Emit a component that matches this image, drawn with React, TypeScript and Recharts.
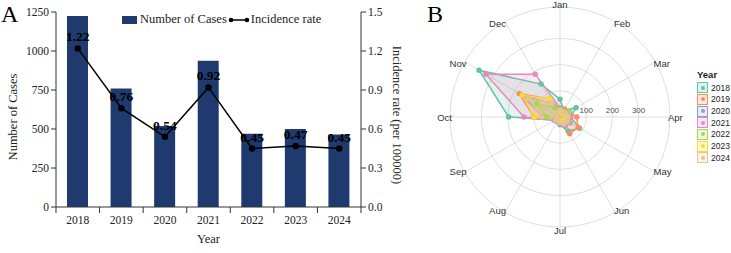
import React from "react";
import {
  ComposedChart,
  Bar,
  Line,
  XAxis,
  YAxis,
  LabelList,
  RadarChart,
  Radar,
  PolarGrid,
  PolarAngleAxis,
  PolarRadiusAxis,
} from "recharts";

const YEARS = ["2018", "2019", "2020", "2021", "2022", "2023", "2024"];
const CASES = [1225, 760, 520, 937, 470, 500, 465];
const RATES = [1.22, 0.76, 0.54, 0.92, 0.45, 0.47, 0.45];
const CASE_TICKS = [0, 250, 500, 750, 1000, 1250];
const RATE_TICKS = [0, 0.3, 0.6, 0.9, 1.2, 1.5];

const MONTHS = ["Jan", "Feb", "Mar", "Apr", "May", "Jun", "Jul", "Aug", "Sep", "Oct", "Nov", "Dec"];
const M_2018 = [68, 30, 71, 40, 86, 62, 30, 20, 25, 196, 357, 145];
const M_2019 = [30, 35, 40, 64, 80, 74, 25, 20, 20, 100, 180, 80];
const M_2020 = [20, 15, 20, 25, 30, 25, 20, 15, 15, 66, 165, 58];
const M_2021 = [35, 30, 35, 40, 45, 40, 25, 20, 25, 138, 327, 189];
const M_2022 = [30, 25, 40, 30, 35, 25, 15, 15, 15, 51, 103, 40];
const M_2023 = [20, 15, 20, 25, 20, 20, 15, 15, 15, 99, 166, 80];
const M_2024 = [25, 20, 25, 30, 30, 30, 20, 15, 20, 70, 140, 60];
const RING_TICKS = [0, 100, 200, 300, 420];

const YEAR_SERIES = [
  { year: "2018", values: M_2018, color: "#66C2A5" },
  { year: "2019", values: M_2019, color: "#FC8D62" },
  { year: "2020", values: M_2020, color: "#8DA0CB" },
  { year: "2021", values: M_2021, color: "#E78AC3" },
  { year: "2022", values: M_2022, color: "#A6D854" },
  { year: "2023", values: M_2023, color: "#FFD92F" },
  { year: "2024", values: M_2024, color: "#E5C494" },
];

const barData = YEARS.map((y, i) => ({ year: y, cases: CASES[i], rate: RATES[i] }));
const radarData = MONTHS.map((m, i) => {
  const row: Record<string, string | number> = { month: m };
  YEAR_SERIES.forEach((s) => (row["y" + s.year] = s.values[i]));
  return row;
});

const SERIF = '"Liberation Serif", "Times New Roman", serif';
const SANS = '"Liberation Sans", Arial, sans-serif';
const NAVY = "#1f3a6e";
const AXIS = "#333";

const RCX = 140;
const RCY = 117;

function YearTick(props: any) {
  const { x, y, payload } = props;
  const half = payload.offset || 21.8;
  const last = payload.index === YEARS.length - 1;
  return (
    <g>
      <line x1={x - half} x2={x - half} y1={y - 8} y2={y - 2} stroke={AXIS} />
      {last && <line x1={x + half} x2={x + half} y1={y - 8} y2={y - 2} stroke={AXIS} />}
      <text x={x} y={y} dy="0.75em" textAnchor="middle" fontFamily={SERIF} fontSize={11.5} fill="#222">
        {payload.value}
      </text>
    </g>
  );
}

function MonthTick(props: any) {
  const { x, y, payload } = props;
  const a = Math.atan2(y - RCY, x - RCX);
  const cos = Math.cos(a);
  const r = 108;
  const px = RCX + r * cos;
  let py = RCY + r * Math.sin(a);
  let anchor = "middle";
  if (cos > 0.1) anchor = "start";
  else if (cos < -0.1) anchor = "end";
  else py += y < RCY ? -5 : 5;
  return (
    <text x={px} y={py} textAnchor={anchor} dominantBaseline="central" fontFamily={SANS} fontSize={9.5} fill="#333">
      {payload.value}
    </text>
  );
}

function RingTick(props: any) {
  const { x, y, payload } = props;
  if (payload.value > 300) return null;
  return (
    <text x={x} y={y - 4} textAnchor="middle" fontFamily={SANS} fontSize={8} fill="#4d4d4d">
      {payload.value}
    </text>
  );
}

function CasesBars() {
  return (
    <ComposedChart width={420} height={253} data={barData} margin={{ top: 12, right: 0, bottom: 0, left: 0 }}>
      <XAxis
        dataKey="year"
        height={46}
        stroke={AXIS}
        tickLine={false}
        tick={<YearTick />}
        label={{ value: "Year", position: "insideBottom", offset: 10, fontFamily: SERIF, fontSize: 12.5, fill: "#222" }}
      />
      <YAxis
        yAxisId="left"
        width={56}
        domain={[0, 1250]}
        ticks={CASE_TICKS}
        stroke={AXIS}
        tickSize={5}
        tick={{ fontFamily: SERIF, fontSize: 11.5, fill: "#222" }}
        label={() => (
          <text
            x={13}
            y={117}
            transform="rotate(-90 13 117)"
            textAnchor="middle"
            dominantBaseline="central"
            fontFamily={SERIF}
            fontSize={12.5}
            fill="#222"
          >
            Number of Cases
          </text>
        )}
      />
      <YAxis
        yAxisId="right"
        orientation="right"
        width={59}
        domain={[0, 1.5]}
        ticks={RATE_TICKS}
        stroke={AXIS}
        tickSize={5}
        tickFormatter={(v: number) => v.toFixed(1)}
        tick={{ fontFamily: SERIF, fontSize: 11.5, fill: "#222" }}
        label={() => (
          <text
            x={397}
            y={115}
            transform="rotate(90 397 115)"
            textAnchor="middle"
            dominantBaseline="central"
            fontFamily={SERIF}
            fontSize={12.5}
            fill="#222"
          >
            Incidence rate (per 100000)
          </text>
        )}
      />
      <Bar yAxisId="left" dataKey="cases" fill={NAVY} barSize={21} isAnimationActive={false} />
      <Line
        yAxisId="right"
        dataKey="rate"
        stroke="#000"
        strokeWidth={1.5}
        dot={{ r: 2.5, fill: "#000", stroke: "#000" }}
        isAnimationActive={false}
      >
        <LabelList
          dataKey="rate"
          position="top"
          offset={7}
          fontFamily={SERIF}
          fontSize={13.5}
          fontWeight="bold"
          fill="#000"
          formatter={(v: number) => v.toFixed(2)}
        />
      </Line>
    </ComposedChart>
  );
}

function MonthRadar() {
  return (
    <RadarChart width={311} height={253} cx={RCX} cy={RCY} outerRadius={110} data={radarData} margin={{ top: 0, right: 0, bottom: 0, left: 0 }}>
      <PolarGrid gridType="circle" stroke="#d6d6d6" strokeWidth={0.8} />
      <PolarAngleAxis dataKey="month" axisLine={false} tickLine={false} tick={<MonthTick />} />
      <PolarRadiusAxis angle={0} domain={[0, 420]} ticks={RING_TICKS as any} axisLine={false} tickLine={false} tick={<RingTick />} />
      {YEAR_SERIES.map((s) => (
        <Radar
          key={s.year}
          dataKey={"y" + s.year}
          name={s.year}
          stroke={s.color}
          strokeWidth={1.5}
          fill={s.color}
          fillOpacity={0.18}
          dot={{ r: 2, fill: s.color, stroke: s.color, fillOpacity: 1 }}
          isAnimationActive={false}
        />
      ))}
    </RadarChart>
  );
}

export default function App() {
  return (
    <div style={{ position: "relative", width: 731, height: 253, background: "#fff", overflow: "hidden" }}>
      <style>{"body{margin:0}"}</style>
      <div style={{ position: "absolute", left: 0, top: 0 }}>
        <CasesBars />
      </div>
      <div style={{ position: "absolute", left: 420, top: 0 }}>
        <MonthRadar />
      </div>
      <div style={{ position: "absolute", left: 1, top: 0, fontFamily: SERIF, fontSize: 24, lineHeight: "28px" }}>A</div>
      <div style={{ position: "absolute", left: 427, top: 0, fontFamily: SERIF, fontSize: 24, lineHeight: "28px" }}>B</div>
      <div
        style={{
          position: "absolute",
          left: 122,
          top: 12,
          display: "flex",
          alignItems: "center",
          fontFamily: SERIF,
          fontSize: 12.5,
          color: "#222",
          lineHeight: "15px",
        }}
      >
        <span style={{ display: "inline-block", width: 15, height: 8, background: NAVY, marginRight: 3 }} />
        <span>Number of Cases</span>
        <svg width={22} height={10} style={{ margin: "0 1px" }}>
          <line x1={3} x2={19} y1={5} y2={5} stroke="#000" strokeWidth={1.5} />
          <circle cx={3} cy={5} r={2.3} fill="#000" />
          <circle cx={19} cy={5} r={2.3} fill="#000" />
        </svg>
        <span>Incidence rate</span>
      </div>
      <div style={{ position: "absolute", left: 697, top: 69, fontFamily: SANS, color: "#222" }}>
        <div style={{ fontSize: 9.5, fontWeight: "bold", height: 13 }}>Year</div>
        {YEAR_SERIES.map((s) => (
          <div key={s.year} style={{ display: "flex", alignItems: "center", height: 11.67 }}>
            <span
              style={{
                boxSizing: "border-box",
                width: 11,
                height: 11,
                border: `1.5px solid ${s.color}`,
                background: s.color + "33",
                display: "inline-flex",
                alignItems: "center",
                justifyContent: "center",
                marginRight: 3,
              }}
            >
              <span style={{ width: 4, height: 4, borderRadius: 2, background: s.color }} />
            </span>
            <span style={{ fontSize: 8.5 }}>{s.year}</span>
          </div>
        ))}
      </div>
    </div>
  );
}
